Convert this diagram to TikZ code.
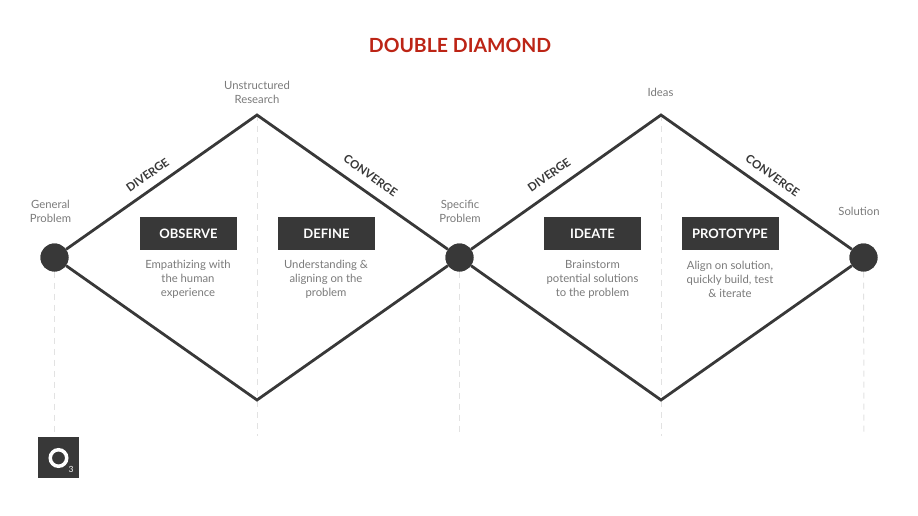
\documentclass[tikz,border=0pt]{standalone}
\usepackage{fontspec}
\setmainfont{Lato}
\definecolor{ink}{HTML}{383838}
\definecolor{soft}{HTML}{7A7A7A}
\definecolor{guide}{HTML}{E2E2E2}
\definecolor{titlered}{HTML}{BC2415}
\tikzset{
  phase/.style={fill=ink, text=white, minimum width=97pt, minimum height=33pt, inner sep=0pt, font=\fontsize{13}{15}\selectfont\bfseries},
  note/.style={text=soft, align=center, font=\fontsize{11.3}{14}\selectfont, inner sep=0pt},
  slope/.style={text=ink, inner sep=0pt, font=\fontsize{11.5}{13}\selectfont\bfseries},
  hub/.style={circle, fill=ink, minimum size=28pt, inner sep=0pt},
  edge/.style={draw=ink, line width=2.8pt, line join=miter},
  drop/.style={draw=guide, line width=1pt, dash pattern=on 6pt off 5pt},
}
\begin{document}
\begin{tikzpicture}[x=1pt,y=-1pt]
    \useasboundingbox (0,0) rectangle (918,516);

    \node[font=\fontsize{19.5}{22}\selectfont\bfseries, text=titlered] (title) at (460,45.5) {DOUBLE DIAMOND};

    % guides
    \coordinate (top1) at (257,115);
    \coordinate (bot1) at (257,400);
    \coordinate (top2) at (661,115);
    \coordinate (bot2) at (661,400);
    \coordinate (end0) at (54.5,436);
    \coordinate (end1) at (257,436);
    \coordinate (end2) at (459.5,436);
    \coordinate (end3) at (661,436);
    \coordinate (end4) at (864,436);

    \node[hub] (start) at (54.5,257.5) {};
    \node[hub] (middle) at (459.5,257.5) {};
    \node[hub] (finish) at (863.5,257.5) {};

    \draw[drop] (start) -- (end0);
    \draw[drop] (top1) -- (end1);
    \draw[drop] (middle) -- (end2);
    \draw[drop] (top2) -- (end3);
    \draw[drop] (finish) -- (end4);

    % diamonds
    \draw[edge] (start) -- (top1) -- (middle);
    \draw[edge] (start) -- (bot1) -- (middle);
    \draw[edge] (middle) -- (top2) -- (finish);
    \draw[edge] (middle) -- (bot2) -- (finish);
    \node[hub] at (start) {};
    \node[hub] at (middle) {};
    \node[hub] at (finish) {};

    \node[slope, rotate=-35.1] (conv1) at (370.5,175.5) {CONVERGE};
    \node[slope, rotate=35.1] (div1) at (147.5,175) {DIVERGE};
    \node[slope, rotate=35.1] (div2) at (549,175) {DIVERGE};
    \node[slope, rotate=-35.1] (conv2) at (772.5,175.5) {CONVERGE};

    \node[note] (general) at (50.5,211.5) {General\\Problem};
    \node[note] (research) at (257,92.5) {Unstructured\\Research};
    \node[note] (specific) at (460,211.5) {Specific\\Problem};
    \node[note] (ideas) at (660.5,92.5) {Ideas};
    \node[note] (solution) at (859,211.5) {Solution};

    \node[phase] (observe) at (188.5,233.5) {OBSERVE};
    \node[phase] (define) at (326.5,233.5) {DEFINE};
    \node[phase] (ideate) at (592.5,233.5) {IDEATE};
    \node[phase] (prototype) at (730,233.5) {PROTOTYPE};

    \node[note] (observetxt) at (188,279.5) {Empathizing with\\the human\\experience};
    \node[note] (definetxt) at (326,279.5) {Understanding \&\\aligning on the\\problem};
    \node[note] (ideatetxt) at (592.5,279.5) {Brainstorm\\potential solutions\\to the problem};
    \node[note] (prototypetxt) at (730,279.5) {Align on solution,\\quickly build, test\\\& iterate};

    % logo
    \node[fill=ink, minimum size=40.5pt, inner sep=0pt] (logo) at (58.7,457.5) {};
    \node[circle, draw=white, line width=3.5pt, minimum size=16.5pt, inner sep=0pt] (ring) at (58.5,458) {};
    \node[text=white, inner sep=0pt, font=\fontsize{8.5}{9}\selectfont] (three) at (71,469) {3};
\end{tikzpicture}
\end{document}
